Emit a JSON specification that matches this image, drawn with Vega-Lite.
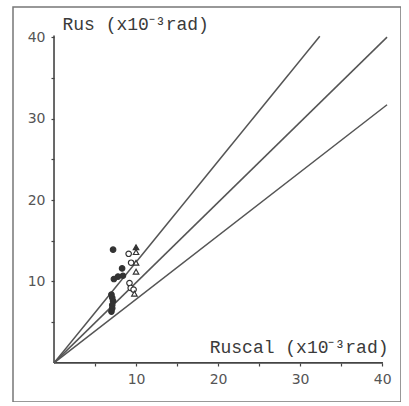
{
  "$schema": "https://vega.github.io/schema/vega-lite/v6.json",
  "width": 388,
  "height": 395,
  "autosize": {"type": "none"},
  "padding": {"left": 13, "top": 7, "right": 0, "bottom": 0},
  "background": "white",
  "config": {"view": {"stroke": "#777", "strokeWidth": 1.5}},
  "datasets": {
    "axes": [
      {"x": 0, "y": 0, "x2": 40.1, "y2": 0},
      {"x": 0, "y": 0, "x2": 0, "y2": 40.2}
    ],
    "lines": [
      {"line": "a", "x": 0, "y": 0}, {"line": "a", "x": 32.4, "y": 40.1},
      {"line": "b", "x": 0, "y": 0}, {"line": "b", "x": 40.6, "y": 40.0},
      {"line": "c", "x": 0, "y": 0}, {"line": "c", "x": 40.6, "y": 31.7}
    ],
    "points": [
      {"type": "filled", "x": 7.2, "y": 13.9},
      {"type": "filled", "x": 8.3, "y": 11.6},
      {"type": "filled", "x": 7.8, "y": 10.6},
      {"type": "filled", "x": 8.4, "y": 10.7},
      {"type": "filled", "x": 7.3, "y": 10.3},
      {"type": "filled", "x": 7.0, "y": 8.4},
      {"type": "filled", "x": 7.1, "y": 8.0},
      {"type": "filled", "x": 7.2, "y": 7.6},
      {"type": "filled", "x": 7.1, "y": 7.1},
      {"type": "filled", "x": 7.1, "y": 6.7},
      {"type": "filled", "x": 7.0, "y": 6.3},
      {"type": "open", "x": 9.1, "y": 13.4},
      {"type": "open", "x": 9.4, "y": 12.3},
      {"type": "open", "x": 9.2, "y": 9.8},
      {"type": "open", "x": 9.35, "y": 9.2},
      {"type": "open", "x": 9.7, "y": 9.0},
      {"type": "ftriangle", "x": 10.0, "y": 14.2},
      {"type": "triangle", "x": 10.0, "y": 13.6},
      {"type": "triangle", "x": 10.0, "y": 12.3},
      {"type": "triangle", "x": 10.0, "y": 11.2},
      {"type": "triangle", "x": 9.8, "y": 8.5}
    ]
  },
  "encoding": {
    "x": {
      "field": "x", "type": "quantitative",
      "scale": {"domain": [-5.0, 42.3], "nice": false, "zero": false},
      "axis": {
        "orient": "bottom", "offset": -39, "domain": false, "grid": false,
        "values": [5, 10, 15, 20, 25, 30, 35, 40],
        "labelExpr": "datum.value % 10 == 0 ? datum.label : ''",
        "tickSize": 3, "tickColor": "#444", "tickWidth": 1.2,
        "labelFont": "DejaVu Sans", "labelFontSize": 14, "labelColor": "#555", "labelPadding": 6,
        "title": "Ruscal (x10⁻³rad)",
        "titleFont": "Liberation Mono", "titleFontSize": 18, "titleFontWeight": "normal", "titleColor": "#3a3a3a",
        "titleAlign": "right", "titleAnchor": null, "titleBaseline": "alphabetic",
        "titleX": 375, "titleY": -11
      }
    },
    "y": {
      "field": "y", "type": "quantitative",
      "scale": {"domain": [-4.8, 43.7], "nice": false, "zero": false},
      "axis": {
        "orient": "left", "offset": -41, "domain": false, "grid": false,
        "values": [5, 10, 15, 20, 25, 30, 35, 40],
        "labelExpr": "datum.value % 10 == 0 ? datum.label : ''",
        "tickSize": 3, "tickColor": "#444", "tickWidth": 1.2,
        "labelFont": "DejaVu Sans", "labelFontSize": 14, "labelColor": "#555", "labelPadding": 6,
        "title": "Rus (x10⁻³rad)",
        "titleFont": "Liberation Mono", "titleFontSize": 18, "titleFontWeight": "normal", "titleColor": "#3a3a3a",
        "titleAngle": 0, "titleAlign": "left", "titleAnchor": null, "titleBaseline": "alphabetic",
        "titleX": 8, "titleY": 22
      }
    }
  },
  "layer": [
    {
      "data": {"name": "axes"},
      "mark": {"type": "rule", "color": "#444", "strokeWidth": 1.6},
      "encoding": {
        "x2": {"field": "x2"},
        "y2": {"field": "y2"}
      }
    },
    {
      "data": {"name": "lines"},
      "mark": {"type": "line", "color": "#555", "strokeWidth": 1.5},
      "encoding": {
        "detail": {"field": "line"}
      }
    },
    {
      "data": {"name": "points"},
      "mark": {"type": "point", "filled": true, "stroke": "#333", "strokeWidth": 1.2, "opacity": 1},
      "encoding": {
        "shape": {
          "field": "type", "type": "nominal", "legend": null,
          "scale": {"domain": ["filled", "open", "triangle", "ftriangle"], "range": ["circle", "circle", "triangle-up", "triangle-up"]}
        },
        "fill": {
          "field": "type", "type": "nominal", "legend": null,
          "scale": {"domain": ["filled", "open", "triangle", "ftriangle"], "range": ["#333", "white", "white", "#333"]}
        },
        "size": {"value": 30}
      }
    }
  ]
}
